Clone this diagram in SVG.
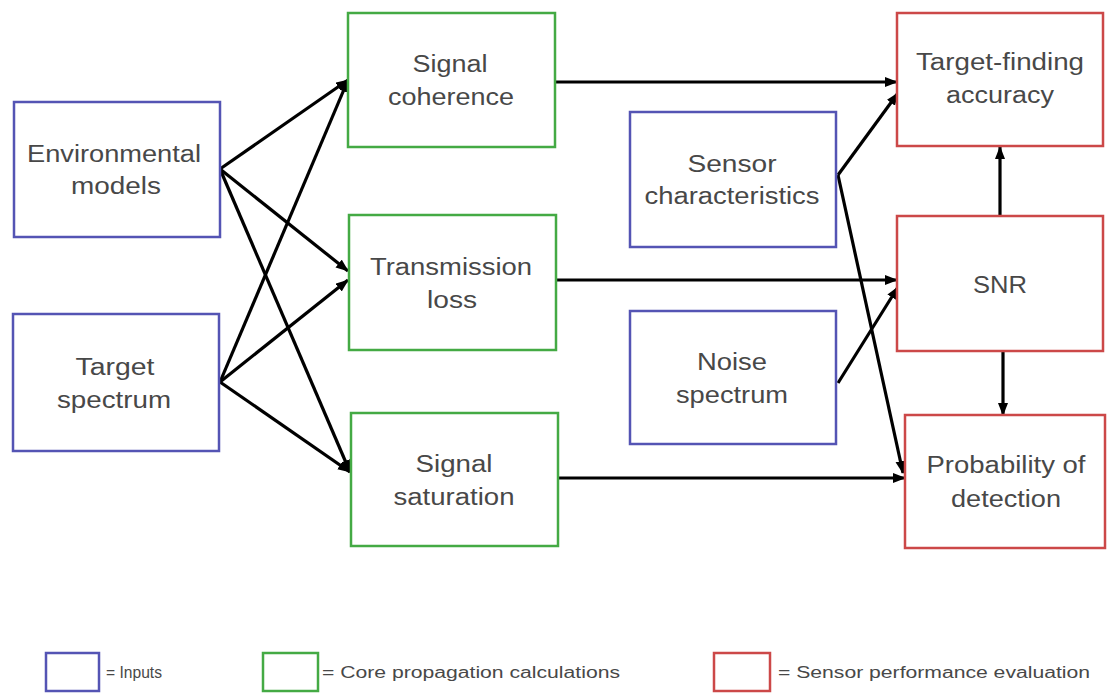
<svg xmlns="http://www.w3.org/2000/svg" width="1107" height="694" viewBox="0 0 1107 694">
<defs>
<style>
.in{fill:#fff;stroke:#5454b4;stroke-width:2.5}
.core{fill:#fff;stroke:#44aa44;stroke-width:2.5}
.perf{fill:#fff;stroke:#cc4848;stroke-width:2.5}
.lbl{font-family:"Liberation Sans",Arial,sans-serif;font-size:23px;fill:#484848;text-anchor:middle}
.leg{font-family:"Liberation Sans",Arial,sans-serif;font-size:16px;fill:#484848}
.c{fill:none;stroke:#000;stroke-width:3.2}
</style>
<marker id="ah" markerUnits="userSpaceOnUse" markerWidth="14" markerHeight="12" refX="12" refY="5" orient="auto">
<path d="M0,0 L13,5 L0,10 z" fill="#000"/>
</marker>
</defs>
<rect width="1107" height="694" fill="#fff"/>

<g id="connectors">
<line class="c" x1="220" y1="169" x2="348" y2="80" marker-end="url(#ah)"/>
<line class="c" x1="220" y1="169" x2="348" y2="271" marker-end="url(#ah)"/>
<line class="c" x1="220" y1="169" x2="350" y2="472" marker-end="url(#ah)"/>
<line class="c" x1="220" y1="382" x2="348" y2="80" marker-end="url(#ah)"/>
<line class="c" x1="220" y1="382" x2="348" y2="280" marker-end="url(#ah)"/>
<line class="c" x1="220" y1="382" x2="350" y2="472" marker-end="url(#ah)"/>
<line class="c" x1="556" y1="82" x2="897" y2="82" marker-end="url(#ah)"/>
<line class="c" x1="556" y1="280" x2="897" y2="280" marker-end="url(#ah)"/>
<line class="c" x1="558" y1="478" x2="905" y2="478" marker-end="url(#ah)"/>
<line class="c" x1="838" y1="175" x2="898" y2="93" marker-end="url(#ah)"/>
<line class="c" x1="838" y1="175" x2="903" y2="473" marker-end="url(#ah)"/>
<line class="c" x1="838" y1="383" x2="898" y2="287" marker-end="url(#ah)"/>
<line class="c" x1="1000" y1="216" x2="1000" y2="147" marker-end="url(#ah)"/>
<line class="c" x1="1003" y1="352" x2="1003" y2="415" marker-end="url(#ah)"/>
</g>

<g id="env">
<rect class="in" x="14" y="102" width="206" height="135"/>
<text class="lbl" x="114" y="162" textLength="174" lengthAdjust="spacingAndGlyphs">Environmental</text>
<text class="lbl" x="116" y="194" textLength="90" lengthAdjust="spacingAndGlyphs">models</text>
</g>
<g id="target">
<rect class="in" x="13" y="314" width="206" height="137"/>
<text class="lbl" x="115" y="375" textLength="79" lengthAdjust="spacingAndGlyphs">Target</text>
<text class="lbl" x="114" y="408" textLength="114" lengthAdjust="spacingAndGlyphs">spectrum</text>
</g>
<g id="coherence">
<rect class="core" x="348" y="13" width="207" height="134"/>
<text class="lbl" x="450" y="72" textLength="75" lengthAdjust="spacingAndGlyphs">Signal</text>
<text class="lbl" x="451" y="105" textLength="126" lengthAdjust="spacingAndGlyphs">coherence</text>
</g>
<g id="transmission">
<rect class="core" x="349" y="215" width="207" height="135"/>
<text class="lbl" x="451" y="275" textLength="162" lengthAdjust="spacingAndGlyphs">Transmission</text>
<text class="lbl" x="452" y="308" textLength="50" lengthAdjust="spacingAndGlyphs">loss</text>
</g>
<g id="saturation">
<rect class="core" x="351" y="413" width="207" height="133"/>
<text class="lbl" x="454" y="472" textLength="77" lengthAdjust="spacingAndGlyphs">Signal</text>
<text class="lbl" x="454" y="505" textLength="121" lengthAdjust="spacingAndGlyphs">saturation</text>
</g>
<g id="sensor">
<rect class="in" x="630" y="112" width="206" height="135"/>
<text class="lbl" x="732" y="172" textLength="89" lengthAdjust="spacingAndGlyphs">Sensor</text>
<text class="lbl" x="732" y="204" textLength="175" lengthAdjust="spacingAndGlyphs">characteristics</text>
</g>
<g id="noise">
<rect class="in" x="630" y="311" width="206" height="133"/>
<text class="lbl" x="732" y="370" textLength="70" lengthAdjust="spacingAndGlyphs">Noise</text>
<text class="lbl" x="732" y="403" textLength="112" lengthAdjust="spacingAndGlyphs">spectrum</text>
</g>
<g id="accuracy">
<rect class="perf" x="897" y="13" width="206" height="133"/>
<text class="lbl" x="1000" y="70" textLength="168" lengthAdjust="spacingAndGlyphs">Target-finding</text>
<text class="lbl" x="1000" y="103" textLength="108" lengthAdjust="spacingAndGlyphs">accuracy</text>
</g>
<g id="snr">
<rect class="perf" x="897" y="216" width="206" height="135"/>
<text class="lbl" x="1000" y="293" textLength="54" lengthAdjust="spacingAndGlyphs">SNR</text>
</g>
<g id="pod">
<rect class="perf" x="905" y="415" width="200" height="133"/>
<text class="lbl" x="1006" y="473" textLength="159" lengthAdjust="spacingAndGlyphs">Probability of</text>
<text class="lbl" x="1006" y="507" textLength="110" lengthAdjust="spacingAndGlyphs">detection</text>
</g>

<g id="legend">
<rect class="in" x="46" y="653" width="53" height="38"/>
<text class="leg" x="106" y="678" textLength="56" lengthAdjust="spacingAndGlyphs">= Inputs</text>
<rect class="core" x="263" y="653" width="55" height="38"/>
<text class="leg" x="322" y="678" textLength="298" lengthAdjust="spacingAndGlyphs">= Core propagation calculations</text>
<rect class="perf" x="714" y="653" width="56" height="38"/>
<text class="leg" x="778" y="678" textLength="312" lengthAdjust="spacingAndGlyphs">= Sensor performance evaluation</text>
</g>
</svg>
